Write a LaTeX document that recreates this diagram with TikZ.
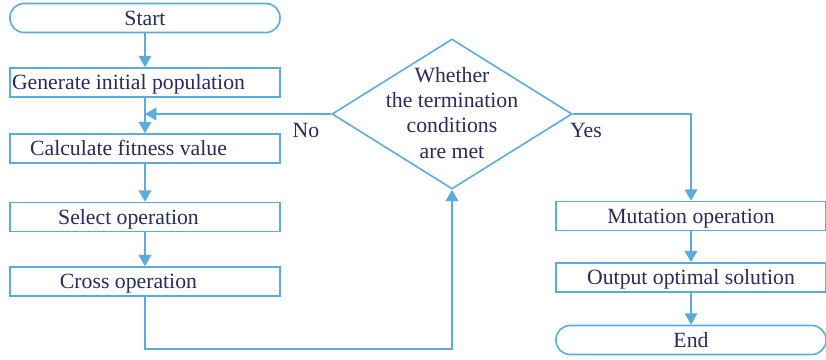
\documentclass[tikz,border=0pt]{standalone}
\usepackage{fontspec}
\setmainfont{Liberation Serif}
\usetikzlibrary{shapes.geometric}
\usetikzlibrary{arrows.meta}
\definecolor{flowline}{RGB}{90,172,220}
\definecolor{flowtext}{RGB}{38,42,92}
\tikzset{
  box/.style={draw=flowline, line width=1.2pt, rectangle, minimum width=202.5pt, minimum height=21.75pt, inner sep=0pt, text height=10.6pt, text depth=0pt, text=flowtext, font=\fontsize{16.3}{19}\selectfont},
  lbox/.style={box, execute at end node={\hspace*{24.75pt}}},
  term/.style={box, rounded corners=10.5pt},
  cond/.style={draw=flowline, line width=1.2pt, diamond, minimum width=180pt, minimum height=112.5pt, inner sep=0pt},
  txt/.style={text=flowtext, font=\fontsize{16.3}{19}\selectfont, inner sep=0pt},
  arr/.style={draw=flowline, line width=1.2pt, -{Triangle[length=8.5pt,width=9.5pt]}},
  link/.style={draw=flowline, line width=1.2pt}
}

\begin{document}
\begin{tikzpicture}[x=0.75pt,y=0.75pt,yscale=-1,xscale=1]
\useasboundingbox (0,0) rectangle (826,360);

%Left column
\node[term] (start) at (145,18) {Start};
\node[lbox] (gen) at (145,82.5) {Generate initial population};
\node[lbox] (calc) at (145,148.5) {Calculate fitness value};
\node[lbox] (sel) at (145,217) {Select operation};
\node[lbox] (cross) at (145,281.5) {Cross operation};

%Decision
\node[cond] (check) at (452,114) {};
\node[txt, align=center] (checktext) at ([yshift=-1]check.center) {Whether\\the termination\\conditions\\are met};

%Right column
\node[box] (mut) at (691,216) {Mutation operation};
\node[box] (outp) at (691,277.5) {Output optimal solution};
\node[term] (fin) at (691,340) {End};

% Text Node
\node[txt] (no) at (306,130) {No};
% Text Node
\node[txt] (yes) at (586,130) {Yes};

%Connectors
\draw[arr] (start) -- (gen);
\draw[arr] (gen) -- (calc);
\draw[arr] (calc) -- (sel);
\draw[arr] (sel) -- (cross);
\draw[arr] (check.west) -- (check.west -| gen.south);
\coordinate (loop) at (452,349);
\draw[arr] (cross.south) |- (loop) -- (check.south);
\draw[arr] (check.east) -| (mut.north);
\draw[arr] (mut) -- (outp);
\draw[arr] (outp) -- (fin);

\end{tikzpicture}
\end{document}
